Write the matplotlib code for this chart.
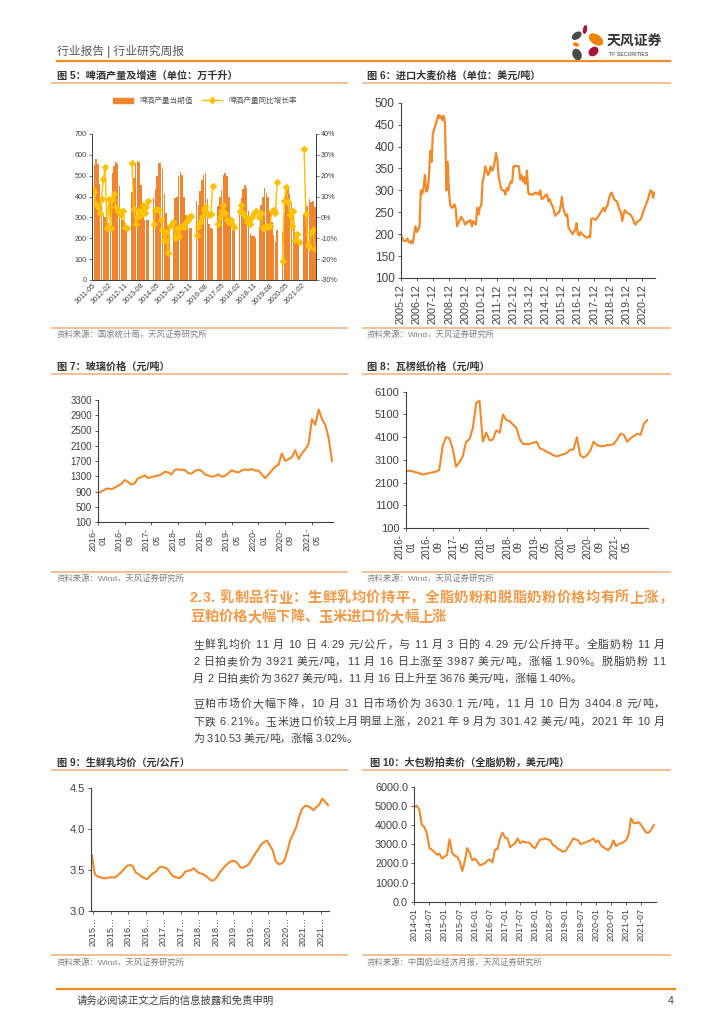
import numpy as np
import matplotlib
matplotlib.use("Agg")
import matplotlib.pyplot as plt
from matplotlib.lines import Line2D
from matplotlib.patches import Ellipse, Patch
from matplotlib.ticker import FuncFormatter

plt.rcParams['font.family'] = ['Liberation Sans', 'Noto Sans CJK SC', 'DejaVu Sans']
plt.rcParams['axes.unicode_minus'] = False

# ---------------- data ----------------
# Fig 5: beer output (10k kL) and YoY growth (%), monthly 2011-05 .. 2021-09
beer_output = [
    475, 552, 578, 558, 458, 380, 310, 300,                          # 2011 May-Dec
    285, 275, 400, 515, 545, 565, 555, 452, 330, 290, 275, 255,      # 2012
    None, None, 420, 490, 555, 570, 565, 455, 340, 290, 290, 290,    # 2013
    None, None, 395, 435, 500, 560, 560, 530, 410, 320, 265, 250,    # 2014
    None, 270, 395, 400, 500, 520, 505, 400, 310, 260, 250, 250,     # 2015
    None, None, 380, 360, 425, 480, 505, 515, 390, 270, 250, 245,    # 2016
    None, None, 355, 400, 430, 505, 515, 500, 400, 300, 240, 245,    # 2017
    None, None, 340, 395, 435, 455, 440, 330, 220, 210, 210, 200,    # 2018
    None, 255, 360, 400, 440, 415, 400, 330, 280, 215, 180, 240,     # 2019
    None, None, 230, 320, 440, 445, 410, 370, 330, 215, 210, 190,    # 2020
    None, None, 310, 360, 355, 390, 375, 380, 350,                   # 2021 Jan-Sep
]
beer_growth = [
    13, 12, 6.5, 5, 2, 9, 18.5, 24,
    -5, 9, -5, 9, 11, 5, 3, 3, 1, 3, -4.5, -5,
    None, None, 26, 4, -3, 0, 3, 1, 6, 2, 5, 8,
    None, None, -3, 3.5, 4, 3.5, -1, -6, -11, -7, -17, -4,
    None, -2, -10, -5, -9, -4.5, -4, -4.5, -2, -1, 0, 0.5,
    None, None, -8.5, -4.5, -2, 0, 4, 5, 2, 1, 1.5, 15,
    None, None, -3, 0, 3, 6, 2, -1, -2, -1, -3, -4.5,
    None, None, 3, 6, 2, 0, -2, -1, -3, 0, 2, 3,
    None, 0, 2, -5, -4.5, -4, -4.5, -4, 3, 3.5, 2, 17,
    None, None, -21, 8, 14.5, 7.5, 1, -4, 3, -11, -8, -12,
    None, None, 33, 1.5, -13, -14, -7, -6, -15,
]
beer_xlabels = ['2011-05', '2012-02', '2012-11', '2013-08', '2014-05', '2015-02', '2015-11',
                '2016-08', '2017-05', '2018-02', '2018-11', '2019-08', '2020-05', '2021-02']
beer_legend = ['啤酒产量当期值', '啤酒产量同比增长率']

# Fig 6: imported barley price (USD/t), monthly 2005-12 .. 2021-09
barley_price = (
    [200] +
    [192, 186, 184, 185, 190, 183, 180, 185, 179, 200, 218, 205] +   # 2006
    [210, 218, 300, 292, 305, 335, 297, 300, 330, 390, 365, 430] +   # 2007
    [440, 450, 460, 472, 465, 470, 460, 470, 455, 300, 365, 295] +   # 2008
    [265, 260, 262, 268, 258, 218, 225, 232, 240, 235, 230, 222] +   # 2009
    [225, 230, 228, 232, 218, 230, 225, 222, 260, 245, 262, 265] +   # 2010
    [320, 332, 355, 345, 335, 340, 355, 345, 350, 365, 385, 370] +   # 2011
    [330, 315, 302, 300, 300, 290, 305, 300, 312, 320, 318, 355] +   # 2012
    [355, 356, 355, 355, 325, 335, 320, 330, 315, 345, 295, 290] +   # 2013
    [292, 290, 292, 295, 292, 295, 290, 300, 280, 282, 285, 290] +   # 2014
    [290, 275, 280, 270, 265, 255, 242, 245, 248, 250, 262, 285] +   # 2015
    [260, 250, 242, 245, 215, 210, 205, 200, 205, 210, 225, 200] +   # 2016
    [197, 205, 200, 198, 195, 193, 192, 195, 193, 235, 236, 235] +   # 2017
    [232, 236, 240, 245, 250, 255, 260, 252, 262, 265, 280, 290] +   # 2018
    [295, 288, 280, 276, 275, 265, 255, 250, 230, 245, 255, 250] +   # 2019
    [248, 246, 245, 240, 235, 225, 222, 228, 230, 232, 235, 245] +   # 2020
    [255, 262, 270, 278, 290, 300, 298, 283, 295]                    # 2021
)
barley_xlabels = ['%d-12' % y for y in range(2005, 2021)]

# Fig 7: glass price (CNY/t), monthly 2016-01 .. 2021-11
glass_price = [
    850, 900, 950, 980, 960, 1000, 1050, 1100, 1200, 1150, 1080, 1120,     # 2016
    1250, 1280, 1320, 1250, 1280, 1300, 1320, 1350, 1420, 1400, 1350, 1470,  # 2017
    1480, 1470, 1460, 1380, 1370, 1440, 1470, 1440, 1350, 1320, 1290, 1300,  # 2018
    1350, 1290, 1310, 1380, 1460, 1420, 1400, 1450, 1480, 1460, 1490, 1450,  # 2019
    1450, 1350, 1250, 1350, 1450, 1550, 1600, 1900, 1700, 1750, 1800, 1980,  # 2020
    1750, 1900, 2000, 2150, 2800, 2650, 3050, 2800, 2650, 2300, 1700,        # 2021
]
# Fig 8: corrugated paper price (CNY/t), monthly 2016-01 .. 2022-01
paper_price = [
    2600, 2620, 2600, 2550, 2520, 2450, 2480, 2520, 2550, 2580, 2650, 3700,  # 2016
    4100, 4050, 3600, 2800, 3000, 3250, 3900, 4000, 4500, 5600, 5700, 3900,  # 2017
    4300, 3950, 4000, 4400, 4300, 5100, 4850, 4800, 4650, 4500, 4000, 3800,  # 2018
    3800, 3800, 3850, 3900, 3600, 3550, 3450, 3400, 3300, 3250, 3300, 3350,  # 2019
    3400, 3550, 3550, 4100, 3300, 3200, 3300, 3500, 3900, 3750, 3700, 3700,  # 2020
    3750, 3750, 3800, 4000, 4250, 4200, 3900, 4050, 4150, 4250, 4200, 4700,  # 2021
    4850,
]
glass_paper_xlabels = ['2016-\n01', '2016-\n09', '2017-\n05', '2018-\n01', '2018-\n09',
                       '2019-\n05', '2020-\n01', '2020-\n09', '2021-\n05']

# Fig 9: raw milk average price (CNY/kg), monthly 2015-01 .. 2021-10
milk_price = [
    3.68, 3.45, 3.42, 3.41, 3.40, 3.40, 3.41, 3.41, 3.41, 3.44, 3.47, 3.51,  # 2015
    3.55, 3.56, 3.55, 3.47, 3.45, 3.42, 3.40, 3.39, 3.43, 3.46, 3.48, 3.53,  # 2016
    3.54, 3.53, 3.51, 3.46, 3.42, 3.41, 3.40, 3.43, 3.48, 3.49, 3.50, 3.52,  # 2017
    3.48, 3.46, 3.45, 3.43, 3.40, 3.37, 3.38, 3.42, 3.48, 3.52, 3.56, 3.59,  # 2018
    3.61, 3.61, 3.58, 3.53, 3.53, 3.55, 3.58, 3.64, 3.70, 3.75, 3.81, 3.84,  # 2019
    3.86, 3.80, 3.74, 3.61, 3.57, 3.58, 3.61, 3.73, 3.86, 3.94, 4.02, 4.14,  # 2020
    4.24, 4.28, 4.28, 4.26, 4.23, 4.27, 4.30, 4.37, 4.33, 4.29,              # 2021
]
milk_xlabels = ['2015…', '2015…', '2016…', '2016…', '2017…', '2017…', '2018…',
                '2018…', '2019…', '2019…', '2020…', '2020…', '2021…', '2021…']

# Fig 10: whole milk powder auction price (USD/t), monthly 2014-01 .. 2021-12
wmp_price = [
    4950, 5000, 4800, 4000, 3900, 3550, 2800, 2700, 2600, 2450, 2500, 2250,  # 2014
    2350, 2450, 3250, 2550, 2400, 2350, 2100, 1600, 2100, 2800, 2550, 2150,  # 2015
    2250, 2100, 1900, 1950, 2000, 2150, 2200, 2050, 2700, 2750, 3300, 3600,  # 2016
    3350, 3300, 2850, 2950, 3050, 3300, 3050, 3150, 3100, 3100, 3050, 2850,  # 2017
    2800, 3050, 3250, 3250, 3300, 3250, 3200, 2950, 2900, 2750, 2700, 2600,  # 2018
    2650, 2850, 3050, 3300, 3250, 3200, 3000, 3050, 3100, 3150, 3200, 3300,  # 2019
    3100, 3200, 2950, 2850, 2750, 2700, 2850, 3200, 2900, 3000, 3050, 3100,  # 2020
    3200, 3500, 4350, 4100, 4100, 4150, 4000, 3800, 3600, 3600, 3750, 4000,  # 2021
]
wmp_xlabels = ['%d-%s' % (y, m) for y in range(2014, 2022) for m in ('01', '07')]

# ---------------- page helpers ----------------
W, H = 724, 1024
fig = plt.figure(figsize=(W / 100, H / 100), dpi=100)
fig.patch.set_facecolor('white')

ORANGE = '#F08A2C'
LIGHT = '#F6B98A'
DARK = '#404040'
GREY = '#7F7F7F'


def px_axes(l, t, r, b):
    return fig.add_axes([l / W, 1 - b / H, (r - l) / W, (b - t) / H])


def hline(x0, x1, y, color, lw):
    fig.add_artist(Line2D([x0 / W, x1 / W], [1 - y / H, 1 - y / H],
                          transform=fig.transFigure, color=color, lw=lw))


def ftext(x, y, s, **kw):
    kw.setdefault('va', 'center')
    return fig.text(x / W, 1 - y / H, s, **kw)


renderer = fig.canvas.get_renderer()
_wcache = {}


def char_w(ch, size, weight):
    key = (ch, size, weight)
    if key not in _wcache:
        t1 = fig.text(0, 0, '中' + ch + '中', fontsize=size, fontweight=weight)
        t2 = fig.text(0, 0, '中中', fontsize=size, fontweight=weight)
        w = t1.get_window_extent(renderer).width - t2.get_window_extent(renderer).width
        t1.remove(); t2.remove()
        _wcache[key] = w
    return _wcache[key]


def text_line(x0, x1, y, s, size, color, justify=True, weight='normal'):
    widths = [char_w(c, size, weight) for c in s]
    natural = sum(widths)
    extra = (x1 - x0 - natural) / (len(s) - 1) if (justify and len(s) > 1) else 0
    x = x0
    for c, w in zip(s, widths):
        if c != ' ':
            ftext(x, y, c, fontsize=size, color=color, ha='left', fontweight=weight)
        x += w + extra


def style(ax, ysize, xsize):
    for s in ('top', 'right'):
        ax.spines[s].set_visible(False)
    for s in ('left', 'bottom'):
        ax.spines[s].set_color(DARK)
        ax.spines[s].set_linewidth(0.8)
    ax.tick_params(axis='both', colors=DARK, length=2.5, width=0.6, pad=2)
    ax.tick_params(axis='y', labelsize=ysize)
    ax.tick_params(axis='x', labelsize=xsize)
    ax.set_facecolor('none')


# ---------------- header / footer ----------------
ftext(57, 51, '行业报告 | 行业研究周报', fontsize=8.5, color='#595959')
hline(57, 670, 61, ORANGE, 1.6)

logo = fig.add_axes([565 / W, 1 - 63 / H, 45 / W, 45 / H])
logo.set_xlim(565, 610); logo.set_ylim(63, 18); logo.set_aspect('equal'); logo.axis('off')
for (cx, cy, w, h, ang, col) in [
        (576.7, 35.7, 11, 7, -35, '#4A4A4A'),
        (585.0, 29.5, 4.2, 9, 10, '#A5173A'),
        (596.0, 39.5, 16, 10, 35, '#F08200'),
        (576.0, 44.5, 6, 4, 20, '#F08200'),
        (593.5, 51.5, 11, 8.5, -40, '#A5173A'),
        (577.0, 54.5, 9, 12, -25, '#4A4A4A')]:
    logo.add_patch(Ellipse((cx, cy), w, h, angle=ang, color=col, lw=0))
ftext(607, 42, '天风证券', fontsize=10, color='#333333', fontweight='bold')
ftext(609, 55, 'TF SECURITIES', fontsize=3.8, color='#333333')

hline(57, 675, 989, ORANGE, 1.6)
ftext(77, 1001, '请务必阅读正文之后的信息披露和免责申明', fontsize=7.5, color=DARK)
ftext(668, 1001, '4', fontsize=7.5, color=DARK)

# ---------------- titles / sources ----------------
titles = [(57, 76, '图 5：啤酒产量及增速（单位：万千升）'),
          (367, 76, '图 6：进口大麦价格（单位：美元/吨）'),
          (57, 367, '图 7：玻璃价格（元/吨）'),
          (367, 367, '图 8：瓦楞纸价格（元/吨）'),
          (57, 763, '图 9：生鲜乳均价（元/公斤）'),
          (370, 763, '图 10：大包粉拍卖价（全脂奶粉，美元/吨）')]
for x, y, s in titles:
    ftext(x, y, s, fontsize=7.3, color='#333333', fontweight='bold')
for y in (83, 374, 770):
    hline(52, 347, y, LIGHT, 1.3)
    hline(363, 670, y, LIGHT, 1.3)
for y in (328, 572, 955):
    hline(52, 347, y, LIGHT, 1.3)
    hline(363, 670, y, LIGHT, 1.3)
sources = [(57, 335, '资料来源：国家统计局，天风证券研究所'),
           (367, 335, '资料来源：Wind，天风证券研究所'),
           (57, 579, '资料来源：Wind，天风证券研究所'),
           (367, 579, '资料来源：Wind，天风证券研究所'),
           (57, 963, '资料来源：Wind，天风证券研究所'),
           (367, 963, '资料来源：中国奶业经济月报，天风证券研究所')]
for x, y, s in sources:
    ftext(x, y, s, fontsize=6, color=GREY)

# ---------------- section text ----------------
HEAD = '#F29A4A'
text_line(190, 673, 598, '2.3. 乳制品行业：生鲜乳均价持平，全脂奶粉和脱脂奶粉价格均有所上涨，',
          10.3, HEAD, True, 'bold')
text_line(190, 673, 617, '豆粕价格大幅下降、玉米进口价大幅上涨', 10.3, HEAD, False, 'bold')
para = [
    (645, '生鲜乳均价 11 月 10 日 4.29 元/公斤，与 11 月 3 日的 4.29 元/公斤持平。全脂奶粉 11 月', True),
    (662, '2 日拍卖价为 3921 美元/吨，11 月 16 日上涨至 3987 美元/吨，涨幅 1.90%。脱脂奶粉 11', True),
    (679, '月 2 日拍卖价为 3627 美元/吨，11 月 16 日上升至 3676 美元/吨，涨幅 1.40%。', False),
    (704, '豆粕市场价大幅下降，10 月 31 日市场价为 3630.1 元/吨，11 月 10 日为 3404.8 元/吨，', True),
    (722, '下跌 6.21%。玉米进口价较上月明显上涨，2021 年 9 月为 301.42 美元/吨，2021 年 10 月', True),
    (739, '为 310.53 美元/吨，涨幅 3.02%。', False),
]
for y, s, j in para:
    text_line(193, 665, y, s, 7.9, '#404040', j)

# ---------------- Fig 5 ----------------
ax5 = px_axes(91.7, 134, 315.7, 280)
n5 = len(beer_output)
x5 = np.arange(n5)
prod = np.array([np.nan if v is None else v for v in beer_output], dtype=float)
grow = np.array([np.nan if v is None else v for v in beer_growth], dtype=float) / 100
ax5.bar(x5, np.nan_to_num(prod), width=0.82, color='#EF8530', lw=0)
ax5.set_xlim(-0.5, n5 - 0.5)
ax5.set_ylim(0, 700)
ax5.set_yticks(range(0, 701, 100))
ax5b = ax5.twinx()
ax5b.plot(x5, grow, color='#FFC000', lw=1.0, marker='D', ms=3.0, mec='#FFC000')
ax5b.set_ylim(-0.3, 0.4)
ax5b.set_yticks(np.arange(-0.3, 0.41, 0.1))
ax5b.yaxis.set_major_formatter(FuncFormatter(lambda v, p: '%d%%' % round(v * 100)))
ax5.set_xticks(np.arange(0, n5, 9)[:len(beer_xlabels)])
ax5.set_xticklabels(beer_xlabels, rotation=45, ha='right', rotation_mode='anchor')
for a in (ax5, ax5b):
    a.spines['top'].set_visible(False)
    for s in ('left', 'right', 'bottom'):
        a.spines[s].set_color(DARK)
        a.spines[s].set_linewidth(0.7)
    a.tick_params(colors=DARK, labelsize=5.2, length=2, width=0.5, pad=1.5)
ax5.tick_params(axis='x', length=0)
fig.legend([Patch(color='#EF8530'), Line2D([], [], color='#FFC000', lw=1.0, marker='D', ms=3.0)],
           beer_legend, loc='center', bbox_to_anchor=(205 / W, 1 - 101 / H),
           bbox_transform=fig.transFigure, ncol=2, frameon=False, fontsize=5.5,
           handlelength=2.6, handleheight=0.6, columnspacing=1.2, labelcolor='#595959')

# ---------------- Fig 6 ----------------
ax6 = px_axes(400.7, 102.7, 655, 278)
ax6.plot(np.arange(len(barley_price)), barley_price, color=ORANGE, lw=1.6)
ax6.set_xlim(0, 189.4)
ax6.set_ylim(100, 500)
ax6.set_yticks(range(100, 501, 50))
ax6.set_xticks(np.arange(0, 181, 12))
ax6.set_xticklabels(barley_xlabels, rotation=90)
style(ax6, 8.5, 7.8)

# ---------------- Fig 7 ----------------
ax7 = px_axes(98, 400, 333, 522)
ax7.plot(np.arange(len(glass_price)), glass_price, color=ORANGE, lw=1.5)
ax7.set_xlim(0, 70.3)
ax7.set_ylim(100, 3300)
ax7.set_yticks(range(100, 3301, 400))
ax7.set_xticks(np.arange(0, 65, 8))
ax7.set_xticklabels(glass_paper_xlabels, rotation=90, multialignment='center')
style(ax7, 7, 6.5)

# ---------------- Fig 8 ----------------
ax8 = px_axes(405.7, 391.7, 648, 528)
ax8.plot(np.arange(len(paper_price)), paper_price, color=ORANGE, lw=1.5)
ax8.set_xlim(0, 72.2)
ax8.set_ylim(100, 6100)
ax8.set_yticks(range(100, 6101, 1000))
ax8.set_xticks(np.arange(0, 65, 8))
ax8.set_xticklabels(glass_paper_xlabels, rotation=90, multialignment='center')
style(ax8, 8, 7)

# ---------------- Fig 9 ----------------
ax9 = px_axes(91, 788, 329, 911)
ax9.plot(np.arange(len(milk_price)), milk_price, color=ORANGE, lw=1.5)
ax9.set_xlim(-0.3, 81.3)
ax9.set_ylim(3.0, 4.5)
ax9.set_yticks([3.0, 3.5, 4.0, 4.5])
ax9.yaxis.set_major_formatter(FuncFormatter(lambda v, p: '%.1f' % v))
ax9.set_xticks(np.arange(0.5, 80, 6)[:len(milk_xlabels)])
ax9.set_xticklabels(milk_xlabels, rotation=90)
style(ax9, 8, 6.5)

# ---------------- Fig 10 ----------------
ax10 = px_axes(414.3, 786.7, 656, 901.7)
ax10.plot(np.arange(len(wmp_price)), wmp_price, color=ORANGE, lw=1.5)
ax10.set_xlim(0, 95.9)
ax10.set_ylim(0, 6000)
ax10.set_yticks(range(0, 6001, 1000))
ax10.yaxis.set_major_formatter(FuncFormatter(lambda v, p: '%.1f' % v))
ax10.set_xticks(np.arange(0, 91, 6))
ax10.set_xticklabels(wmp_xlabels, rotation=90)
style(ax10, 7.8, 6.5)

fig.savefig('out.png', dpi=100, facecolor='white')
